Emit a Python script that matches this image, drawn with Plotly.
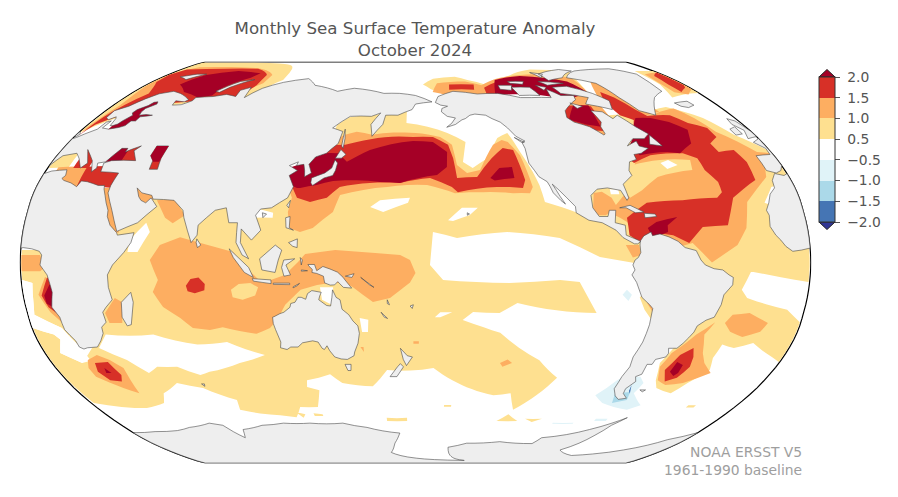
import plotly.graph_objects as go

# ==========================================================
# COLOURS AND TEXT
# ==========================================================

DARK_RED = "#a50026"
RED = "#d73027"
ORANGE = "#fdae61"
YELLOW = "#fee090"
WHITE = "#ffffff"
PALE_BLUE = "#e0f3f8"
MID_BLUE = "#abd9e9"
BLUE = "#4575b4"
DARK_BLUE = "#313695"
LAND = "#eeeeee"
COAST = "#4a4a4a"
TEXT = "#555555"
FONT = "DejaVu Sans"

BAR_COLORS = [BLUE, MID_BLUE, PALE_BLUE, WHITE, YELLOW, ORANGE, RED]
BAR_LABELS = ["−2.0", "−1.5", "−1.0", "−0.5", "0.5", "1.0", "1.5", "2.0"]

# ==========================================================
# ANOMALY CONTOURS (lon, lat)
# ==========================================================

Y_MAIN = [(26,-33),(28,-10),(35,5),(40,15),(45,18),(60,28),(75,28),(100,25),(115,32),(125,40),(135,48),
    (137,55.8),(143,59.2),(156,60),(175,61.5),(175,56.6),(197,52.4),(206,48.6),(203.5,40.4),(208,38),(216,42),
    (223,50.3),(229,52.4),(233,44.5),(237,36.4),(239,31.2),(240.5,24.3),(255,20),(262,22),(275,15),(282,8),(285,5),(285,-1),
    (264,2.2),(246,9.9),(222,12.3),(199,9.9),(188,12.3),(186.6,-1),(192.6,-7),(223,-8.2),(246,-7),(255,-7.8),(264,-20.3),
    (227,-16.3),(219,-20.3),(206.7,-19.9),(202,-23.1),(212,-26),(220,-28.3),(241,-39.3),(252.6,-46.5),(235.6,-60),(231,-52.9),
    (222,-53.7),(199,-47.5),(189,-42.5),(165.7,-43.3),(157.6,-50),(142,-48.6),(136.6,-45),(124,-47.5),(123,-50.3),(129,-51.6),
    (125,-58.8),(115,-58.8),(110,-63.3),(101,-62.4),(80,-60),(82,-55.8),(68,-50.7),(56,-48.6),(45,-52.9),(40.5,-57),(28,-59.2),
    (1.5,-57),(0.5,-44),(0.5,-26.3),(9,-29),(11,-31),(7.4,-36.4),(15,-40.4)]
Y_LEFT = [(0.5,5),(12,5),(22,-10),(25,-30),(19,-34.4),(14,-26.3),(3,-21),(4,-16.3),(5,-8.2),(0.5,-7)]
Y_ATL = [(308,60),(319,62.4),(328,63.7),(342,58.8),(349,51.6),(359.5,45),(359.5,5),(359.5,-7.8),(334,-3.8),(310,-3),
    (285,-1),(282,8),(270,15),(262,22),(255,30),(265,45),(290,60)]
Y_SATL = [(320,-2),(333,-3.5),(329.4,-11),(332.4,-14.3),(352,-19),(359.5,-24),(359.5,-40),(354.4,-38),(341.5,-32.4),(333.4,-34.4),
    (327,-33),(325.8,-38.4),(328,-43.3),(321.4,-48.6),(316.8,-52.9),(307,-50.7),(304,-47.5),(301,-40.4),(304.4,-34.4),(305,-20),(315,-8)]
Y_ARCTIC = [(0.5,52.4),(0.5,89),(40,89),(82,85),(88,76.8),(81,71.8),(80,65),(40,65),(10,58)]
Y_BEAUFORT = [(185,74.4),(192.3,77.5),(208,78.5),(216,76.8),(226.6,74.4),(238.7,76.8),(249,79.5),(268,83),(296,82),(290,72),(230,68),(200,69),(190,72)]
Y_GREENLAND = [(346,82),(359.5,82),(359.5,70.2),(339,68),(341,70.7),(344,74.4)]
Y_PERU = [(283,-14),(287,-11),(296,-20),(294,-25),(291,-24),(286,-19)]
Y_MED = [(0.5,38),(10,38),(10,45),(0.5,45)]
Y_SMALL_1 = [(196,-58.7),(200,-58.7),(200,-57.9),(196,-57.9)]
Y_SMALL_2 = [(163,-63.6),(175,-63.6),(175,-65),(163,-65)]
Y_SMALL_3 = [(228.5,-65),(234,-62),(241,-65)]
Y_SMALL_4 = [(245,-64),(255,-64),(250,-65.5)]
Y_SMALL_5 = [(121,-61.5),(126,-62),(126,-62.8),(121,-62.8)]
Y_SMALL_6 = [(111,-61),(116,-62),(114,-63.5)]
Y_SMALL_7 = [(332.7,-58),(337,-58),(337,-59),(332.7,-59)]

W_INDIAN = [(33.5,-29),(56,-29),(75.5,-33),(90,-32),(106.6,-37.2),(93,-40.4),(76,-44),(70.5,-45.3),(61,-42),(51,-42),(45,-44.5),(38,-39.2),(27.5,-34.4)]
W_BENGUELA = [(0.3,-7),(5,-8.2),(4,-16.3),(3,-21),(14,-26.3),(19,-34.4),(20,-39.5),(15,-40.4),(7.4,-36.4),(11,-31),(9,-29),(0.3,-26.3)]
W_ARABIA = [(49.4,9),(56,16),(58.2,12.3),(53.3,4.2),(48.7,4.2)]
W_TONKIN = [(105,22),(114,20),(114,18),(105,18)]
W_CORAL = [(154,-22.3),(158,-23),(157.6,-28),(154.8,-28)]
W_CARPENTARIA = [(136.3,-10),(142.3,-10),(142,-17.3),(137,-15)]
W_PAC_1 = [(158.9,22.3),(163.4,25),(177.4,26),(176.5,24),(165,20.3)]
W_PAC_2 = [(195,17),(201.6,22),(209,22),(205,19),(197.3,16.7)]
W_PAC_3 = [(189,-22),(191.5,-20),(197,-20),(191.5,-22)]
W_CAROLINA = [(281.7,33.2),(285.6,36.4),(290,36.4),(288,33.2),(282.6,30.4)]
W_SARGASSO = [(301,40),(305.6,41.3),(309,39.2),(303,37.6)]
W_SENEGAL = [(343,24),(349,30.4),(352.6,31.2),(346,23)]
W_GULF = [(272,29.5),(276,29.5),(276,27.5),(272,27.5)]

O_INDIAN = [(59,1),(63.3,7),(72.3,10.2),(81.8,7.8),(96.9,4.2),(101.5,-1),(110,-8.2),(120.4,-5),(126.5,0.2),(129.7,3.4),(143.4,5),
    (161.6,3.8),(173,3),(177.5,1),(180,-4.2),(177.5,-8),(168.3,-14.3),(160.4,-15.9),(151.4,-10),(147.9,-8.2),(141,-8.2),(135,-9),
    (127.4,-11),(119.9,-17),(115.6,-23),(111.7,-26.3),(104.9,-28.7),(89.6,-26),(83.3,-27.1),(75.5,-26.3),(70.5,-22.3),(63.4,-17.9),
    (59.6,-11.9),(62.4,-7)]
O_NPAC = [(142.5,51.6),(148.5,52.9),(156.9,51.6),(180,52.4),(193,50.7),(198.8,47.5),(200.4,39.2),(205,36),(211.5,37.2),(220,47.5),
    (225,49.4),(228,48.6),(232.5,43.2),(235.7,30.4),(234,27.9),(226,27.9),(211.8,28.3),(198.6,27.9),(185.5,31.2),(166.5,30.4),(144.5,27.1),
    (141.7,20.3),(132.8,13.9),(127,12.3),(122,13.9),(120.8,20.3),(122,26),(118,33),(125,40),(135,48)]
O_NATL = [(319,61),(331.5,63),(337,58.8),(341,52.9),(353,44.5),(359.5,44),(353.7,42),(349,34.4),(335,24.3),(332,13.9),(327,7),(315,0),
    (306.6,7.8),(295,5),(285,8),(277.5,16.3),(274.5,18),(270,20),(278,27),(285,35),(290,42),(295,47),(300,53),(308,57)]
O_GULF = [(264,28),(268,28.5),(272,26),(274,22),(268,19),(262,19)]
O_BAFFIN = [(299.5,75.7),(310.5,74.4),(317,67),(321,61.5),(307,58.8),(292.5,67)]
O_BEAUFORT = [(191,70.7),(194.5,75),(214,76),(224,74),(240,78),(270,80),(290,78),(290,72),(230,68),(200,69)]
O_HUDSON = [(265,50),(290,50),(290,72),(265,72)]
O_ARCTIC = [(1,53),(4,64.4),(1,74),(0.5,79.5),(8.9,84.7),(56,84),(76,79.5),(77,75),(73,72.8),(70,65),(30,65),(12,60),(3,55)]
O_GREENLAND = [(348,80),(359.5,81),(359.5,72),(352,69.5),(345,70.5),(345,75)]
O_INDIA = [(59,25),(67,25.5),(73.3,19),(68.2,15.8),(64.3,18)]
O_RED_SEA = [(32,12),(44,12),(44,30),(32,30)]
O_PERSIAN = [(48,23),(57,23),(57,31),(48,31)]
O_MED = [(5,30),(23,30),(23,38.3),(5,38.3)]
O_ANGOLA = [(0.5,3),(9,3),(11,-2),(9,-3.5),(0.5,-3.5)]
O_NAMIBIA = [(7,-13),(11,-5.8),(13.5,-7),(14.8,-24),(10.8,-20)]
O_MOZAMBIQUE = [(36,-20.3),(41.8,-14.3),(45,-16),(43,-24.3),(37,-24.3)]
O_AGULHAS = [(18.7,-39.2),(24.6,-37.2),(29.5,-39.2),(33.8,-42.5),(32,-52.9),(26,-50.7),(16.7,-46),(16.3,-42.5)]
O_BRAZIL = [(302,-42),(304.5,-36.4),(312.8,-29),(320,-24),(316.6,-29),(319.6,-36.4),(323,-40.4),(329.5,-44.5),(319,-48.6),(310.6,-49.5),(305,-47.5)]
O_SATL = [(324.6,-24.3),(327.3,-21),(335,-20.3),(344.7,-24.3),(342.5,-27.9),(335,-30),(328.3,-27.9)]
O_PERU = [(286.7,-16.3),(293,-16),(294,-25),(290,-20)]
O_PANAMA = [(276,7),(282,7),(283,3),(279,2)]
O_SMALL_1 = [(179,-31.7),(181.6,-31.7),(181.6,-32.7),(179,-32.7)]
O_SMALL_2 = [(221.8,-40.4),(225.3,-39),(227.8,-40.4),(223.4,-42)]
O_SMALL_3 = [(153.5,-34),(155,-34),(155,-36)]

Y_INDIAN_HOLE = [(95.5,-11),(99.2,-8.6),(104.6,-8.2),(108,-10),(106.4,-13.3),(100.5,-15),(96,-14)]
Y_SARGASSO = [(282,36),(287,39.2),(301.6,41.3),(316.6,41.3),(315,37.2),(296.7,34.4),(287,29),(280.7,26),(278,30)]

R_NPAC = [(143.7,47.5),(149.5,48.6),(178.7,50.7),(189.2,50.7),(196.8,47.5),(198.8,42),(200,34),(209.7,34.4),(218,42),(224.6,46.1),
    (229.7,45.3),(232.6,33.2),(231,30),(218.6,30.4),(200,28.3),(197.3,30.4),(187,34),(172.6,32),(144,30.4),(138.4,26),(130.7,24.3),(124.4,26),
    (118,35),(125,42),(135,47)]
R_NATL = [(303,58.8),(317.6,60),(325,60),(330.6,56.6),(338.4,54.5),(338.7,50.7),(332.6,48),(333.6,44.5),(342,45.3),(344,40.4),(343,33.2),
    (329,26),(323.7,15),(312,14.3),(305,7.8),(298,11),(290.8,11.9),(282.5,8.2),(278,11),(277.7,18),(288,24),(305,25),(321.5,26),(324.6,28.3),
    (324.7,32.4),(321,37.2),(320.7,42),(315,44),(298,43.2),(288,40),(285,43),(295,50),(300,56)]
R_DAVIS = [(298,70.7),(303,68),(308.4,62.4),(312.5,58.8),(304,57),(296.5,60),(294,65.5)]
R_HUDSON = [(265,53),(284,53),(284,64),(265,64)]
R_ARCTIC = [(1.5,51),(3.5,59.2),(11,70),(3,75.7),(0.8,79.5),(4,83),(32,83.5),(58,83.5),(72,79.5),(74,74),(70,65),(30,65),(12,60),(4,56)]
R_GREENLAND = [(352,79),(359.5,81),(359,74),(357,72.8),(350,70.7),(349.5,74.4)]
R_BEAUFORT = [(202.5,74.4),(219,74.4),(218,71.8),(201.8,71.8)]
R_ARCHIPELAGO = [(225,72.8),(237,76),(255,78),(255,70),(225,69)]
R_INDIAN = [(75,-9.4),(77.3,-6.6),(81,-6),(83.7,-8.6),(83.3,-11.2),(78.8,-12.4),(75.6,-11.6)]
R_ADRIATIC = [(12.5,38),(20,38),(20,46),(12.5,46)]
R_EAST_MED = [(19,30),(37,30),(37,38.5),(19,38.5)]
R_BLACK_SEA = [(33,40),(42,40),(42,47.5),(33,47.5)]
R_NAMIBIA = [(8.4,-13.3),(12,-5.8),(13.5,-8.8),(14.4,-21),(10.5,-18)]
R_AGULHAS = [(21.3,-40.4),(28,-40),(30.3,-45.3),(28,-48),(22.5,-47.5),(19.6,-44)]
R_BRAZIL = [(305.4,-43.3),(309,-37.2),(314,-34.4),(316,-38),(317,-42),(314,-46.5),(309,-48)]
R_PERU = [(289.5,-17),(294,-17),(292,-23)]

D_NPAC = [(124.6,40),(127,42),(133,44),(141,44),(146,40.5),(156.8,45.3),(178.7,49),(189,48.6),(196,44.5),(195.4,38.4),(190.4,35.2),(172.6,32),
    (163,32.4),(140.5,32.8),(133,31.2),(125.3,30),(123.8,30),(118,32),(118,38)]
D_EPAC = [(216,34),(221,38),(227.3,38.4),(227.6,34),(218,33)]
D_NATL = [(304,58.8),(312.5,58.8),(320.6,57),(326.8,53.7),(322.7,48),(313.6,44),(307.7,44.5),(292.8,43.2),(290,47),(297,52),(300,56)]
D_CARIB = [(286.7,13.9),(291,16.3),(301,18.3),(296,15),(295.8,12.3),(288.6,9.9)]
D_ARCTIC = [(22,74.4),(28,79.5),(46,82),(65.6,80.5),(63.4,78),(53.4,72.8),(52.6,69),(45,68),(32,70.7)]
D_BALTIC = [(14,53),(32,53),(32,66.5),(14,66.5)]
D_BLACK_SEA = [(26,40.5),(34,40.5),(34,47),(26,47)]
D_HUDSON = [(266,58),(274,64.4),(283,64.4),(281,55),(274,56)]
D_ARCHIPELAGO = [(235,76.8),(255,79),(284,76),(290,70),(274,67),(230,69)]
D_NAMIBIA = [(9.6,-13.3),(12.7,-8.8),(14.6,-11),(12.6,-18),(10,-16.5)]
D_AGULHAS = [(24.2,-42.5),(26,-44.5),(23.4,-44.5)]
D_BRAZIL = [(308.5,-44),(309.3,-40),(313,-41.3),(313,-44.5),(311.5,-45.7)]

P_CAPE_HORN = [(277,-53.7),(284,-47.5),(286.4,-46),(295,-46),(298.5,-48.6),(297,-52.9),(306,-58),(300.5,-60),(283.6,-57)]
P_PERU_SPOT = [(275,-13),(276.8,-11),(279.3,-13),(278,-15.5)]
P_THIN_1 = [(263,-65.8),(275.5,-65.8),(275.5,-66.3),(263,-66.3)]
P_THIN_2 = [(287,-64),(294,-64),(294,-65),(287,-65)]
M_CAPE_HORN = [(289,-57),(287,-52.9),(294.7,-52.4),(296,-55.8)]
B_CAPE_HORN = [(293.6,-52),(293,-49.5),(295,-53)]

# ==========================================================
# LAND OUTLINES (lon, lat)
# ==========================================================

EURASIA = [(-9,43),(-1.5,43.5),(-1,46),(-4.5,48.5),(1.5,50.5),(4,52),(8,54),(8.5,57),(10.5,57.5),(10,54.5),(14,54),(18.5,54.7),(21,55.5),(21.5,57.5),(24,57.5),(24,59.3),(28,59.7),(30,60),
    (26,60.3),(22.5,60),(21.5,61.5),(21.5,63),(25,65),(24,66),(22,65.8),(21,64.3),(17.5,62.5),(17,61),(18.8,60),(16.7,57.5),(16,56.2),(14.3,55.5),(12.8,55.5),(11.5,58.5),(10.5,59.3),(8,58),
    (5.5,59),(5,62),(10,64),(14,67.5),(18,69.8),(25,71),(31,70),(41,67),(40,66),(34,66.5),(35,64.5),(40,64.7),(44,66.5),(44,68),(54,68.5),(61,69.5),(68,68.5),(67,71.5),(72,73),(74,68),
    (80,72.5),(90,75.5),(105,77.5),(113,74),(130,71),(140,72.5),(160,70),(170,70),(180,69),(190,66),(180,65),(178,62.5),
    (170,60),(163,60),(162,56),(157,51),(155.5,56),(160,61),(155,59.5),(143,59.5),(135,54.5),(141,53),(140,48),(135,44),(130,42.5),(127.5,39.5),(129.5,36),
    (126.5,34.5),(126,37),(125,39.5),(121.5,39),(122,40.5),(118,39),(122.5,37),(119,35),(122,30.5),(120,26),(113,22),(108,21.5),(106,19),(109,13),(105,9),
    (100,13.5),(100,8),(104,1.5),(101,3),(98,8),(98,16),(94,16),(92,22),(87,21),(80,15),(80,11),(77.5,8),(73,18),(72,21),(67,25),(57,25.5),(56,27),(51,28),
    (48,30),(50,26.5),(51.5,25),(54,24),(56,26),(59.5,22.5),(52,16),(43,12.5),(39,21),(35,28),(35,31),(36,36),(27,36.5),(26,40),(29,41),(41,41),(37,45),
    (39,47),(35,45.5),(33,44.5),(33,46),(30,46),(28,43),(26.5,40.5),(23,40),(24,38),(22.5,36.5),(19.5,41),(13,45.5),(18,40),(16,38),(12,42),(9,44),(3,43),
    (0,39),(-2,37),(-5,36),(-9,37)]
AFRICA = [(-6,35.8),(-2,35),(3,36.8),(10,37.3),(11,35),(10,33.8),(11.5,33),(15.5,32),(19,30.5),(20,32.8),(23,32.5),(29,31),(32,31),(32.5,29.5),(34,27),(35.5,24),(37.2,21),(37.5,18.5),
    (39.5,15),(43,12),(43.5,11),(51,12),(50,8),(47,4),(42,-1),(39.5,-5),(39.5,-10),(40.5,-15),(37,-18),(35,-20),(35.5,-24),(32.8,-26),(32.5,-28.5),(30,-31.5),(27,-34),(22,-34.3),(20,-34.8),
    (18.3,-34),(18,-31.5),(15,-27),(14.5,-22),(12,-18),(13.5,-12),(13,-9),(12,-5),(9,-1),(9.7,3),(8.5,4.5),(5,5.5),(1,6),(-4,5),(-8,4.5),(-11,6.5),(-13,9),(-15,11),(-17,14.5),(-16.3,19),
    (-17,21),(-15,24),(-13,27.5),(-9.7,30),(-9,33)]
NORTH_AMERICA = [(-168,65.7),(-166,68.5),(-156,71),(-141,69.7),(-128,70),(-115,68),(-108,68),(-96,68),(-95,72),(-89,69),(-81,69),(-82,67),(-87,65),(-93,62),
    (-94.5,59),(-92,57),(-85,55),(-82,53),(-80,51.5),(-79,52),(-79,55),(-77,57),(-78,62),(-72,61.5),(-69,58.5),(-65,60),(-60,55),(-56,52),(-60,50),(-66,50),
    (-71,47),(-65,49),(-65,47),(-61,46),(-66,44),(-70,43.5),(-70,41.5),(-74,40.5),(-76,37),(-75.5,35),(-81,31.5),(-80,26),(-81,25),(-83,29),(-89,30),(-94,29.5),
    (-97.5,27),(-97.5,22),(-95,18.5),(-91,18.5),(-90,21),(-87,21),(-88,16),(-83.5,15),(-83.5,11),(-79.5,9.5),(-77,8.5),(-78.5,7.5),(-80,7.5),(-85,10),(-88,13),
    (-94,16),(-100,17),(-105.5,20),(-105.5,22.5),(-109,26),(-112.5,29.5),(-114.8,31.5),(-112,26.5),(-110,23.5),(-112,25),(-115,28),(-116,30.5),(-117,32.5),(-120.5,34.5),(-122,37),(-124,40),
    (-124,46),(-124.7,48.4),(-123,49),(-127,51),(-130,54.5),(-133,57),(-137,58.5),(-140,60),(-146,60.5),(-149,60),(-152,58.5),(-154,58),(-158,56),(-163,54.8),(-160,56.5),(-157.5,58.8),
    (-162,59.5),(-165,61.5),(-164.5,63),(-161,64),(-165,64.5)]
SOUTH_AMERICA = [(-77.3,8.6),(-75.5,10.7),(-72,12.3),(-71.5,10.8),(-68,11.5),(-64,10.3),(-60,8.5),(-57,6),(-52,4.8),(-50,1),(-48,-1),(-44,-2.5),(-40,-3),(-37,-5),(-35,-6),(-35,-9),(-38.5,-13),
    (-39,-17),(-41,-22),(-44.5,-23.2),(-48,-25.5),(-48.7,-28),(-52,-32.5),(-54,-34.5),(-58,-34.5),(-57,-36.5),(-57.5,-38),(-62,-39),(-62.5,-41),(-65,-41),(-65,-45),(-67.5,-46),(-66,-48),(-69,-51),
    (-68.5,-53),(-65,-55),(-69,-55.5),(-72,-54),(-75,-51),(-74.5,-46),(-73,-42),(-73.5,-38),(-71.5,-32),(-70.5,-25),(-70.3,-18.5),(-72,-17),(-76,-14),(-79,-8),(-81.3,-5),(-80,-3),(-81,-1),(-80,1),
    (-78.5,2),(-77.3,4),(-77.5,7)]
AUSTRALIA = [(113.5,-22),(114.2,-21.8),(117,-20.6),(119,-20),(122,-18),(122.5,-16.5),(124.5,-16),(126,-14),(127.5,-14),(129.5,-14.8),(130.5,-12.5),(132.5,-11.3),(136.8,-12),(136,-13.5),(135.5,-15),
    (139,-17.3),(140.8,-17.5),(141.6,-14),(142,-11),(143.5,-14),(145.3,-15),(146,-18.8),(149,-21),(150.8,-23.5),(153,-25.5),(153.5,-28.5),(152.5,-32.5),(150.5,-36),(150,-37.5),(146.5,-39),(143.5,-38.8),
    (140.5,-38),(138.5,-35.5),(137.5,-33.5),(136,-35),(135,-34.5),(133.5,-32),(131,-31.5),(126,-32.3),(123.5,-34),(120,-34),(118,-35),(115,-34.3),(115.7,-32),(114.2,-27),(113.5,-24.5)]
ANTARCTICA = [(0,-70.5),(15,-70),(30,-69.5),(40,-68),(55,-66),(62,-67),(68,-73),(72,-69),(86,-67),(100,-66),(116,-66),(136,-66),(150,-68),(170,-70.7),(166,-75.7),
    (162,-81),(181,-85),(220,-87),(205,-81.5),(203,-78),(215,-75.8),(237,-75),(260,-76),(263,-73),(289,-69),(299,-66),(305,-63.5),(300,-67),(296,-72),(285,-79.5),
    (300,-83),(314,-82),(331,-79.5),(348,-74),(360,-70.5)]
GREENLAND = [(-73,78),(-60,82),(-30,83.5),(-18,80),(-22,71),(-32,68),(-43,60),(-50,62),(-54,68),(-58,75)]
BAFFIN = [(-90,73),(-80,73.5),(-68,70),(-62,66.5),(-65,62.5),(-72,64),(-78,65),(-73,68),(-88,70)]
VICTORIA = [(-117,73),(-105,73),(-102,69),(-115,69)]
BANKS = [(-125,74),(-116,74),(-118,71.5),(-125,72)]
ELLESMERE = [(-90,80),(-70,83),(-62,82),(-76,78),(-88,76.5)]
DEVON = [(-96,76),(-80,75),(-92,74)]
MELVILLE = [(-117,76),(-106,76),(-108,74.5),(-116,75)]
PRINCE_WALES = [(-100,74),(-94,73),(-97,71.5)]
HEIBERG = [(-95,81),(-87,80),(-91,78)]
SOUTHAMPTON = [(-87,65.5),(-81,64),(-85,63)]
NEWFOUNDLAND = [(-59,47.7),(-56,51.5),(-53,47)]
ICELAND = [(-24,65.5),(-15,66.3),(-14,64.5),(-19,63.4),(-22.5,64)]
BRITAIN = [(-5,58.5),(-2,57.5),(0,53),(1.5,52),(1,51),(-5.5,50),(-3,53.5),(-6,56)]
IRELAND = [(-10,54),(-6,55),(-6,52),(-10,51.5)]
SVALBARD = [(12,78.5),(20,80),(27,80),(20,77)]
NOVAYA = [(52,71),(60,76),(68,77),(58,73),(55,70.5)]
SAKHALIN = [(142,54),(143,50),(143,46),(142,47)]
HONSHU = [(130,34),(136,36),(139,38),(140,41.3),(141.5,40),(141,37),(140,35),(136,34),(131,31),(130,32)]
HOKKAIDO = [(140,42),(142,45.5),(145,43.5),(143,42)]
TAIWAN = [(120,23),(121.5,25),(121,22)]
HAINAN = [(109,20),(111,19.5),(109.5,18)]
SRI_LANKA = [(80,9.5),(82,7),(80.5,6),(79.8,8)]
LUZON = [(120,18),(122,18.5),(122,14),(124,13),(120.5,14)]
MINDANAO = [(122,8),(126,9.5),(126,6),(124,6.5)]
BORNEO = [(109,1.5),(116,7),(119,5),(117.5,1),(116,-4),(110,-3)]
SUMATRA = [(95,5.5),(104,-2),(106,-6),(102,-4),(97,2)]
JAVA = [(105.5,-6.5),(114,-7),(114,-8.5),(106,-7.5)]
FLORES = [(115,-8.3),(122.5,-8.3),(122.5,-8.9),(115,-8.8)]
TIMOR = [(124,-9.8),(127,-8.4),(126,-9.3),(124,-10.2)]
CERAM = [(128,-3),(130.8,-3.3),(128,-3.5)]
SULAWESI = [(120,1),(125,1.5),(121,-1),(123,-5),(120,-5.5),(119,-2)]
HALMAHERA = [(127.5,2),(128.5,1),(128,-1)]
NEW_GUINEA = [(131,-0.8),(134,-0.8),(135,-3.3),(137.8,-1.6),(141,-2.6),(144.5,-3.9),(147,-6),(147.8,-7),(150.8,-10.3),(147,-10),(144.5,-7.7),(143,-9),(141,-9.1),(138.5,-8.2),(138,-5.5),(135,-4.4),(132.8,-4),(133,-2.8),(131.5,-1.5)]
NEW_BRITAIN = [(148,-5.5),(152,-4.5),(151,-6)]
SOLOMON = [(155,-6),(161,-10),(159,-9)]
VANUATU = [(167,-15),(168,-17),(167,-16.5)]
CALEDONIA = [(164,-20),(167,-22.5),(165.5,-22)]
FIJI = [(177.5,-17.5),(179,-17),(178.5,-18.5)]
TASMANIA = [(145,-41),(148,-41),(147.5,-43.5),(146,-43.5)]
NZ_NORTH = [(172.7,-34.5),(176,-37.5),(178.5,-38),(175.5,-41.5),(174,-39)]
NZ_SOUTH = [(172.5,-40.7),(174,-42),(170.5,-46),(167,-46),(171,-42)]
MADAGASCAR = [(49.5,-12),(50,-16),(47,-25),(45,-25.5),(43.5,-22),(44.5,-16)]
CUBA = [(-85,22),(-80,23),(-74,20.3),(-78,20),(-82,22)]
HISPANIOLA = [(-74,19.8),(-69,19.5),(-68.5,18.5),(-74,18)]
HAWAII = [(-156,20),(-155,19.5),(-156,19)]
VANCOUVER = [(-128,50.5),(-123.5,48.5),(-125,48.5)]
FALKLAND = [(-61,-51.5),(-58,-51.5),(-59,-52.3)]
KERGUELEN = [(68.5,-49),(70,-49),(69.5,-50)]
CASPIAN = [(47,47),(53,47),(53,42),(54,37.5),(50,37.5),(49.5,41),(47,43)]
CASPIAN_NORTH = [(47,47),(53,47),(53,40.5),(50,40.5),(47,43)]

LAYERS = [
    (YELLOW, [Y_MAIN, Y_LEFT, Y_ATL, Y_SATL, Y_ARCTIC, Y_BEAUFORT, Y_GREENLAND, Y_PERU, Y_MED, Y_SMALL_1, Y_SMALL_2,
              Y_SMALL_3, Y_SMALL_4, Y_SMALL_5, Y_SMALL_6, Y_SMALL_7]),
    (WHITE, [W_INDIAN, W_BENGUELA, W_ARABIA, W_TONKIN, W_CORAL, W_CARPENTARIA, W_PAC_1, W_PAC_2, W_PAC_3, W_CAROLINA, W_SENEGAL, W_GULF]),
    (ORANGE, [O_INDIAN, O_NPAC, O_NATL, O_GULF, O_BAFFIN, O_BEAUFORT, O_HUDSON, O_ARCTIC, O_GREENLAND, O_INDIA, O_RED_SEA, O_PERSIAN,
              O_MED, O_ANGOLA, O_NAMIBIA, O_MOZAMBIQUE, O_AGULHAS, O_BRAZIL, O_SATL, O_PERU, O_PANAMA, O_SMALL_1, O_SMALL_2, O_SMALL_3]),
    (YELLOW, [Y_INDIAN_HOLE, Y_SARGASSO]),
    (WHITE, [W_SARGASSO]),
    (RED, [R_NPAC, R_NATL, R_DAVIS, R_HUDSON, R_ARCTIC, R_GREENLAND, R_BEAUFORT, R_ARCHIPELAGO, R_INDIAN, R_ADRIATIC, R_EAST_MED,
           R_BLACK_SEA, R_NAMIBIA, R_AGULHAS, R_BRAZIL, R_PERU]),
    (DARK_RED, [D_NPAC, D_EPAC, D_NATL, D_CARIB, D_ARCTIC, D_BALTIC, D_BLACK_SEA, D_HUDSON, D_ARCHIPELAGO, D_NAMIBIA, D_AGULHAS, D_BRAZIL]),
    (PALE_BLUE, [P_CAPE_HORN, P_PERU_SPOT, P_THIN_1, P_THIN_2]),
    (MID_BLUE, [M_CAPE_HORN]),
    (BLUE, [B_CAPE_HORN]),
]

LAND_SHAPES = [EURASIA, AFRICA, NORTH_AMERICA, SOUTH_AMERICA, AUSTRALIA, GREENLAND, BAFFIN, VICTORIA, BANKS, ELLESMERE, DEVON, MELVILLE,
    PRINCE_WALES, HEIBERG, SOUTHAMPTON, NEWFOUNDLAND, ICELAND, BRITAIN, IRELAND, SVALBARD, NOVAYA, SAKHALIN, HONSHU, HOKKAIDO, TAIWAN,
    HAINAN, SRI_LANKA, LUZON, MINDANAO, BORNEO, SUMATRA, JAVA, FLORES, TIMOR, CERAM, SULAWESI, HALMAHERA, NEW_GUINEA, NEW_BRITAIN, SOLOMON, VANUATU,
    CALEDONIA, FIJI, TASMANIA, NZ_NORTH, NZ_SOUTH, MADAGASCAR, CUBA, HISPANIOLA, HAWAII, VANCOUVER, FALKLAND, KERGUELEN]


def clockwise(ring):
    # d3 fills the side on the right of the ring, so the ring has to run clockwise
    area = 0
    for i in range(len(ring)):
        x1, y1 = ring[i]
        x2, y2 = ring[(i + 1) % len(ring)]
        area += x1 * y2 - x2 * y1
    return ring if area < 0 else ring[::-1]


def polygons(fig, rings, fill, line_color=None, line_width=0, wind=True):
    lon, lat = [], []
    for ring in rings:
        ring = clockwise(ring) if wind else ring
        ring = ring + [ring[0]]
        lon += [p[0] for p in ring] + [None]
        lat += [p[1] for p in ring] + [None]
    fig.add_trace(go.Scattergeo(
        lon=lon, lat=lat, mode="lines", fill="toself", fillcolor=fill,
        line=dict(color=line_color or fill, width=line_width),
        hoverinfo="skip", showlegend=False,
    ))


fig = go.Figure()

for color, rings in LAYERS:
    polygons(fig, rings, color)

polygons(fig, LAND_SHAPES, LAND, COAST, 0.6)
polygons(fig, [ANTARCTICA], LAND, COAST, 0.6, wind=False)
polygons(fig, [CASPIAN], RED, COAST, 0.6)
polygons(fig, [CASPIAN_NORTH], DARK_RED)

# invisible point, only here to carry the colorbar
steps = len(BAR_COLORS)
scale = []
for i, c in enumerate(BAR_COLORS):
    scale += [[i / steps, c], [(i + 1) / steps, c]]
fig.add_trace(go.Scattergeo(
    lon=[90], lat=[60], mode="markers",
    marker=dict(
        size=1, opacity=0, color=[0], cmin=0, cmax=steps, colorscale=scale, showscale=True,
        colorbar=dict(
            x=819 / 898, xanchor="left", xpad=0, y=1 - 149.5 / 497, yanchor="middle", ypad=0,
            thickness=16, thicknessmode="pixels", len=145, lenmode="pixels",
            tickmode="array", tickvals=list(range(steps + 1)),
            ticktext=["\u00a0" + t for t in BAR_LABELS],
            ticks="outside", ticklen=5, tickcolor=TEXT, tickwidth=1,
            tickfont=dict(family=FONT, size=13.89, color=TEXT),
            outlinecolor="#333333", outlinewidth=1,
        ),
    ),
    hoverinfo="skip", showlegend=False,
))

fig.update_layout(
    width=898,
    height=497,
    paper_bgcolor="white",
    margin=dict(l=0, r=0, t=0, b=0),
    font=dict(family=FONT, color=TEXT),
    title=dict(
        text="Monthly Sea Surface Temperature Anomaly<br>October 2024",
        x=415 / 898, xanchor="center", y=1 - 34 / 497, yanchor="middle",
        font=dict(family=FONT, size=16.67, color=TEXT),
    ),
    geo=dict(
        domain=dict(x=[20 / 898, 811 / 898], y=[34 / 497, 435 / 497]),
        projection=dict(type="robinson", rotation=dict(lon=180)),
        bgcolor="white",
        showframe=True, framecolor="black", framewidth=1.2,
        showland=False, showocean=False, showlakes=False, showrivers=False,
        showcoastlines=False, showcountries=False, showsubunits=False,
    ),
    annotations=[dict(
        text="NOAA ERSST V5<br>1961-1990 baseline",
        xref="paper", yref="paper", x=804 / 898, y=1 - 461 / 497,
        xanchor="right", yanchor="middle", align="right", showarrow=False,
        font=dict(family=FONT, size=13.89, color="#9e9e9e"),
    )],
    shapes=[
        dict(type="path", xref="paper", yref="paper", line=dict(color="#222222", width=1), fillcolor=DARK_RED,
             path=f"M {819/898} {1-77/497} L {827/898} {1-69.5/497} L {835/898} {1-77/497} Z"),
        dict(type="path", xref="paper", yref="paper", line=dict(color="#222222", width=1), fillcolor=DARK_BLUE,
             path=f"M {819/898} {1-222/497} L {827/898} {1-229.5/497} L {835/898} {1-222/497} Z"),
    ],
)

# the page has a default 8px body margin, the figure should sit flush in the window
fig.write_html("out.html", config={"displayModeBar": False}, post_script="document.body.style.margin='0';")
